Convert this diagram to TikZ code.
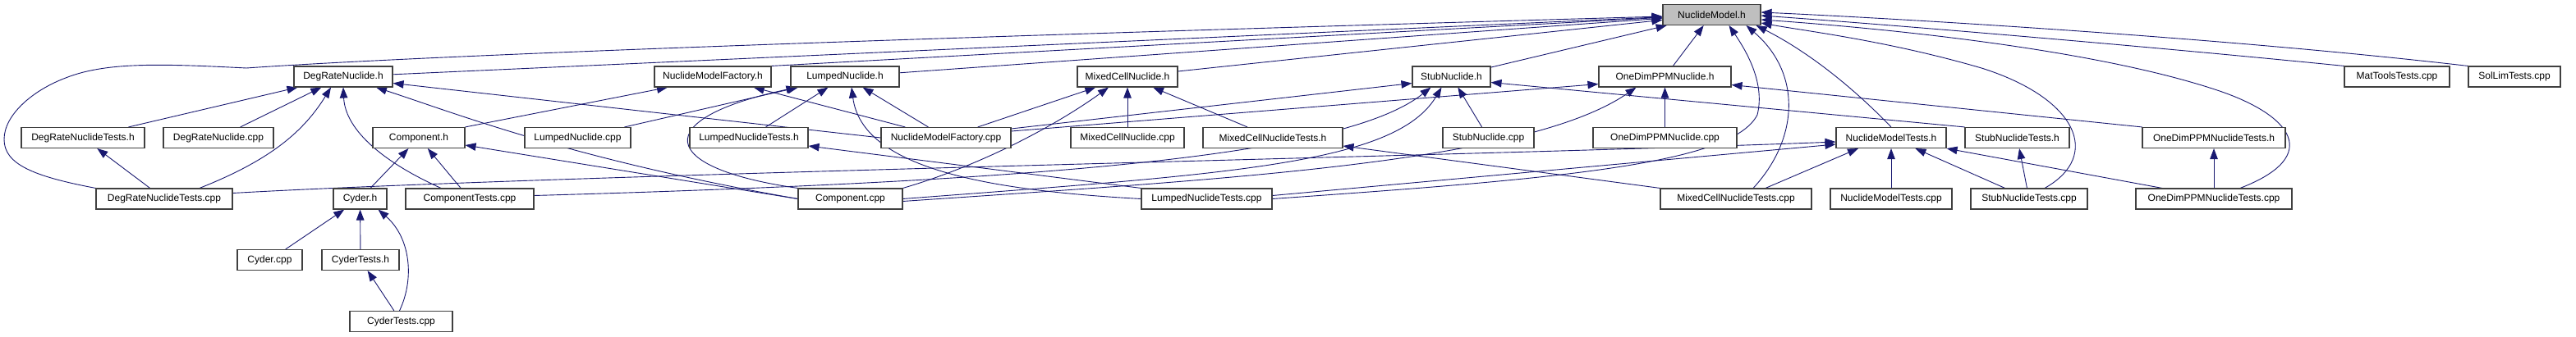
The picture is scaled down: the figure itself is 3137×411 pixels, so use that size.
\documentclass[tikz,border=0pt]{standalone}
\usepackage{fontspec}
\setmainfont{Liberation Sans}
\usepackage{tikz}
\usetikzlibrary{positioning, backgrounds, arrows.meta}
\definecolor{edgeblue}{RGB}{25, 25, 112}
\definecolor{boxgray}{RGB}{191, 191, 191}

\begin{document}
\begin{tikzpicture}[
  x=1pt, y=-1pt,
  font=\fontsize{12}{14}\selectfont,
  file/.style={
    draw=black!75, line width=1.1pt, fill=white,
    minimum height=25pt, inner sep=0pt
  },
  current/.style={file, fill=boxgray},
  inc/.style={
    draw=edgeblue, line width=0.9pt,
    -{Triangle[length=13pt,width=9.5pt]}
  }
]
\useasboundingbox (0,0) rectangle (3137,411);

% top
\node[current, minimum width=119pt] (nm) at (2084.5,18) {NuclideModel.h};

% row 1
\node[file, minimum width=120pt] (drh)  at (418,93.5)   {DegRateNuclide.h};
\node[file, minimum width=142pt] (nmfh) at (868,93.5)   {NuclideModelFactory.h};
\node[file, minimum width=132pt] (lnh)  at (1029,93.5)  {LumpedNuclide.h};
\node[file, minimum width=122pt] (mch)  at (1373,93.5)  {MixedCellNuclide.h};
\node[file, minimum width=95pt]  (sh)   at (1767.5,93.5) {StubNuclide.h};
\node[file, minimum width=161pt] (odh)  at (2027.5,93.5) {OneDimPPMNuclide.h};
\node[file, minimum width=128pt] (mtt)  at (2919,93.5)  {MatToolsTests.cpp};
\node[file, minimum width=112pt] (slt)  at (3062,93.5)  {SolLimTests.cpp};

% row 2
\node[file, minimum width=150pt] (drth) at (101,168)    {DegRateNuclideTests.h};
\node[file, minimum width=134pt] (drc)  at (266,168)    {DegRateNuclide.cpp};
\node[file, minimum width=112pt] (comph) at (510,168)   {Component.h};
\node[file, minimum width=129pt] (lnc)  at (703.5,168)  {LumpedNuclide.cpp};
\node[file, minimum width=144pt] (lnth) at (912,168)    {LumpedNuclideTests.h};
\node[file, minimum width=158pt] (nmfc) at (1152,168)   {NuclideModelFactory.cpp};
\node[file, minimum width=138pt] (mcc)  at (1373,168)   {MixedCellNuclide.cpp};
\node[file, minimum width=170pt] (mcth) at (1550,168)   {MixedCellNuclideTests.h};
\node[file, minimum width=111pt] (sc)   at (1812.5,168) {StubNuclide.cpp};
\node[file, minimum width=175pt] (odc)  at (2027.5,168) {OneDimPPMNuclide.cpp};
\node[file, minimum width=134pt] (nmth) at (2303,168)   {NuclideModelTests.h};
\node[file, minimum width=127pt] (sth)  at (2456.5,168) {StubNuclideTests.h};
\node[file, minimum width=174pt] (odth) at (2696,168)   {OneDimPPMNuclideTests.h};

% row 3
\node[file, minimum width=166pt] (drtc) at (200,242.5)  {DegRateNuclideTests.cpp};
\node[file, minimum width=65pt]  (cyh)  at (438.5,242.5) {Cyder.h};
\node[file, minimum width=156pt] (comptc) at (572,242.5) {ComponentTests.cpp};
\node[file, minimum width=127pt] (compc) at (1035.5,242.5) {Component.cpp};
\node[file, minimum width=159pt] (lntc) at (1469.5,242.5) {LumpedNuclideTests.cpp};
\node[file, minimum width=184pt] (mctc) at (2114,242.5) {MixedCellNuclideTests.cpp};
\node[file, minimum width=148pt] (nmtc) at (2303,242.5) {NuclideModelTests.cpp};
\node[file, minimum width=142pt] (stc)  at (2471,242.5) {StubNuclideTests.cpp};
\node[file, minimum width=190pt] (odtc) at (2696,242.5) {OneDimPPMNuclideTests.cpp};

% rows 4 and 5
\node[file, minimum width=79pt]  (cyc)  at (328.5,317)  {Cyder.cpp};
\node[file, minimum width=94pt]  (cyth) at (439,317)    {CyderTests.h};
\node[file, minimum width=125pt] (cytc) at (488.5,392)  {CyderTests.cpp};

\begin{scope}[on background layer]
% into NuclideModel.h
\draw[inc] (drh) -- (nm);
\draw[inc] (nmfh.north east) -- (nm);
\draw[inc] (lnh) -- (nm);
\draw[inc] (mch) -- (nm);
\draw[inc] (sh) -- (nm);
\draw[inc] (odh) -- (nm);
\draw[inc] (nmth.north) .. controls (2255,105) and (2200,62) .. ([xshift=-6pt]nm.south east);
\draw[inc] (drtc.north west) .. controls (40,215) and (5,200) .. (5,170)
  .. controls (5,140) and (40,110) .. (80,95)
  .. controls (130,75) and (200,78) .. (300,83)
  .. controls (600,62) and (1500,35) .. ([yshift=-2pt]nm.west);
\draw[inc] (lntc.east) .. controls (1900,218) and (2110,200) .. (2140,140)
  .. controls (2150,100) and (2125,60) .. ([xshift=21pt]nm.south);
\draw[inc] ([xshift=21pt]mctc.north) .. controls (2190,170) and (2195,90) .. ([xshift=42pt]nm.south);
\draw[inc] ([xshift=19pt]stc.north) .. controls (2560,190) and (2530,120) .. (2413,83)
  .. controls (2300,50) and (2200,38) .. ([yshift=-10pt]nm.east);
\draw[inc] ([xshift=32pt]odtc.north) .. controls (2830,190) and (2790,140) .. (2700,110)
  .. controls (2550,60) and (2300,35) .. ([yshift=-6pt]nm.east);
\draw[inc] (mtt.north west) .. controls (2600,55) and (2300,30) .. ([yshift=-1pt]nm.east);
\draw[inc] (slt.north west) .. controls (2700,45) and (2300,22) .. ([yshift=3pt]nm.east);

% into DegRateNuclide.h
\draw[inc] (drth) -- (drh);
\draw[inc] (drc) -- (drh);
\draw[inc] ([xshift=43pt]drtc.north) .. controls (330,195) and (370,160) .. ([xshift=-15pt]drh.south);
\draw[inc] ([xshift=-35pt]comptc.north) .. controls (450,190) and (420,150) .. (drh.south);
\draw[inc] (compc.west) .. controls (700,195) and (560,140) .. ([xshift=40pt]drh.south);
\draw[inc] (nmfc.west) -- ([yshift=-8pt]drh.east);
\draw[inc] (drtc) -- (drth);

% NuclideModelFactory.h, Component.h, Cyder.h
\draw[inc] (comph.north east) -- ([xshift=-55pt]nmfh.south);
\draw[inc] (nmfc) -- (nmfh);
\draw[inc] (cyh) -- (comph);
\draw[inc] (comptc) -- (comph);
\draw[inc] (compc.west) -- ([yshift=-9pt]comph.east);
\draw[inc] (cyc) -- (cyh);
\draw[inc] (cyth) -- (cyh);
\draw[inc] ([xshift=-2pt]cytc.north) .. controls (505,340) and (500,290) .. ([xshift=22pt]cyh.south);
\draw[inc] (cytc) -- (cyth);

% LumpedNuclide.h
\draw[inc] (lnc) -- (lnh);
\draw[inc] (compc.north west) .. controls (800,205) and (790,145) .. ([xshift=8pt]lnh.south west);
\draw[inc] (lnth) -- (lnh);
\draw[inc] (lntc.west) .. controls (1200,232) and (1050,205) .. ([xshift=8pt]lnh.south);
\draw[inc] (nmfc) -- (lnh);
\draw[inc] (lntc.north west) -- ([yshift=-10pt]lnth.east);

% MixedCellNuclide.h
\draw[inc] (nmfc) -- (mch);
\draw[inc] (compc.north east) .. controls (1200,200) and (1290,150) .. ([xshift=-23pt]mch.south);
\draw[inc] (mcc) -- (mch);
\draw[inc] (mcth) -- (mch);
\draw[inc] (mctc.north west) -- ([yshift=-10pt]mcth.east);

% StubNuclide.h
\draw[inc] ([yshift=11pt]nmfc.east) -- ([yshift=-8pt]sh.west);
\draw[inc] ([yshift=4pt]comptc.east) .. controls (1300,220) and (1640,188) .. ([xshift=-25pt]sh.south);
\draw[inc] (compc.east) .. controls (1500,212) and (1700,200) .. ([xshift=-12pt]sh.south);
\draw[inc] (sc) -- (sh);
\draw[inc] (sth.north west) -- ([yshift=-7pt]sh.east);

% OneDimPPMNuclide.h
\draw[inc] ([yshift=8pt]nmfc.east) -- ([yshift=-9pt]odh.west);
\draw[inc] ([yshift=-3pt]compc.east) .. controls (1500,218) and (1860,198) .. ([xshift=-35pt]odh.south);
\draw[inc] (odc) -- (odh);
\draw[inc] (odth.north west) -- ([yshift=-10pt]odh.east);

% NuclideModelTests.h and the other test headers
\draw[inc] ([yshift=7pt]drtc.east) .. controls (700,212) and (1800,190) .. ([yshift=-5pt]nmth.west);
\draw[inc] ([yshift=4pt]lntc.east) -- ([yshift=-8pt]nmth.west);
\draw[inc] ([xshift=36pt]mctc.north) -- ([xshift=-40pt]nmth.south);
\draw[inc] (nmtc) -- (nmth);
\draw[inc] (stc) -- (nmth);
\draw[inc] ([xshift=-63pt]odtc.north) -- (nmth.south east);
\draw[inc] (stc) -- (sth);
\draw[inc] (odtc) -- (odth);
\end{scope}
\end{tikzpicture}
\end{document}
